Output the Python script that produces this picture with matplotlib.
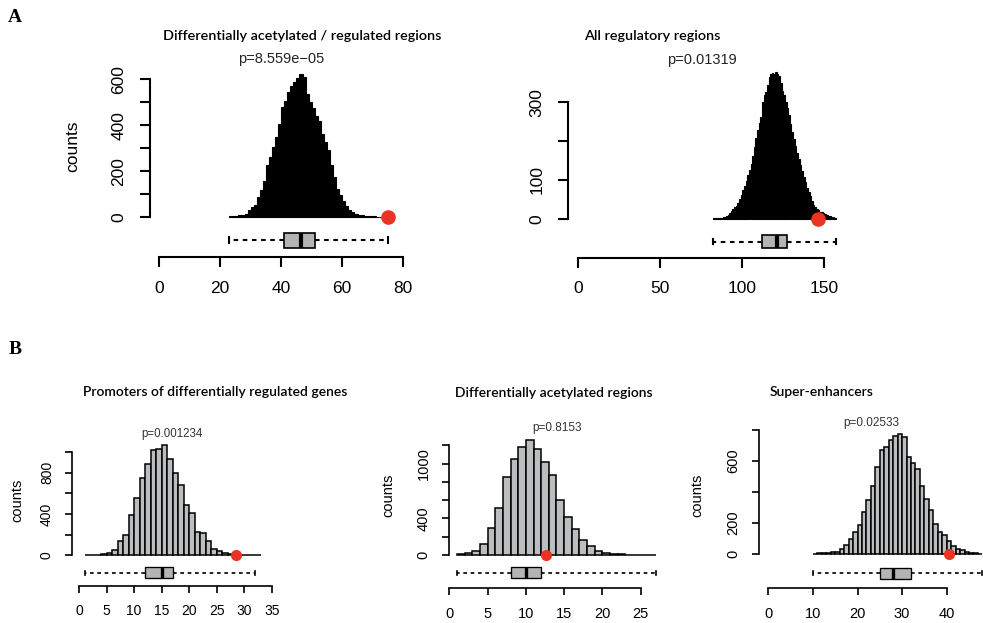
import matplotlib
matplotlib.use('Agg')
from matplotlib import pyplot as plt

plt.rcParams['font.family'] = ['Liberation Sans', 'DejaVu Sans']

W, H = 983, 623

# ---- values ----
# A: Differentially acetylated / regulated regions
a1_start = 23
a1_counts = [3, 4, 5, 7, 10, 14, 29, 43, 51, 87, 119, 159, 225, 261, 304, 348, 406, 478,
             507, 543, 570, 587, 606, 625, 610, 536, 500, 475, 442, 420, 362, 326, 293,
             225, 174, 123, 94, 70, 46, 32, 22, 14, 10, 7, 6, 5, 4, 3, 2, 2, 1, 1]
a1_box = dict(whislo=23, q1=41, med=46.5, q3=51, whishi=75)
a1_obs = 75
a1_xticks = [0, 20, 40, 60, 80]
a1_yticks = [0, 100, 200, 300, 400, 500, 600]
a1_ylabels = ['0', '', '200', '', '400', '', '600']

# A: All regulatory regions
a2_start = 82
a2_counts = [1, 2, 2, 3, 3, 3, 4, 5, 6, 9, 14, 20, 26, 30, 34, 40, 50, 60, 74, 85,
             97, 112, 126, 142, 162, 185, 208, 228, 246, 262, 300, 318, 326, 345, 366,
             372, 376, 374, 378, 372, 368, 350, 330, 318, 300, 286, 266, 245, 224, 206,
             188, 170, 154, 138, 122, 108, 94, 80, 70, 58, 46, 36, 30, 25, 22, 18, 16,
             14, 11, 9, 8, 7, 5, 4, 3]
a2_box = dict(whislo=82, q1=112, med=121, q3=127, whishi=157)
a2_obs = 146
a2_xticks = [0, 50, 100, 150]
a2_yticks = [0, 100, 200, 300]
a2_ylabels = ['0', '100', '', '300']

# B: Promoters of differentially regulated genes
b1_start = 1
b1_counts = [1, 3, 5, 10, 22, 51, 138, 197, 392, 553, 745, 880, 1015, 1027, 1065, 935,
             795, 683, 490, 405, 230, 215, 138, 62, 46, 25, 13, 6, 3, 2, 1, 1]
b1_box = dict(whislo=1, q1=12, med=15, q3=17, whishi=32)
b1_obs = 28.5
b1_xticks = [0, 5, 10, 15, 20, 25, 30, 35]
b1_yticks = [0, 200, 400, 600, 800, 1000]
b1_ylabels = ['0', '', '400', '', '800', '']

# B: Differentially acetylated regions
b2_start = 1
b2_counts = [7, 25, 47, 120, 292, 518, 850, 1050, 1180, 1265, 1160, 1018, 878, 602,
             415, 280, 165, 95, 44, 25, 15, 7, 3, 2, 1, 1]
b2_box = dict(whislo=1, q1=8, med=10, q3=12, whishi=27)
b2_obs = 12.6
b2_xticks = [0, 5, 10, 15, 20, 25]
b2_yticks = [0, 200, 400, 600, 800, 1000, 1200]
b2_ylabels = ['0', '', '400', '', '', '1000', '']

# B: Super-enhancers
b3_start = 10
b3_counts = [2, 4, 6, 9, 11, 15, 34, 60, 97, 142, 189, 271, 348, 441, 559, 673, 688,
             733, 759, 774, 753, 624, 587, 550, 440, 357, 286, 194, 142, 122, 82, 49,
             34, 26, 13, 9, 4, 2]
b3_box = dict(whislo=10, q1=25, med=28, q3=32, whishi=48)
b3_obs = 40.5
b3_xticks = [0, 10, 20, 30, 40]
b3_yticks = [0, 200, 400, 600, 800]
b3_ylabels = ['0', '200', '', '600', '']

fig = plt.figure(figsize=(W / 100, H / 100), dpi=100)


def ftext(x, y, s, **kw):
    fig.text(x / W, 1 - y / H, s, ha='center', va='center', **kw)


def panel(rect, ox, sx, oy, sy, start, counts, box, obs, xticks, yticks, ylabels,
          box_y, box_h, axis_y, fill, fs, lw, dot, tlen, med_lw, bar_lw):
    L, R, T, B = rect
    ax = fig.add_axes([L / W, 1 - B / H, (R - L) / W, (B - T) / H])
    ax.set_xlim((L - ox) / sx, (R - ox) / sx)
    ax.set_ylim((oy - B) / sy, (oy - T) / sy)
    ax.patch.set_visible(False)

    edges = [start + i for i in range(len(counts))]
    ax.bar(edges, counts, width=1, align='edge', color=fill, edgecolor='black',
           linewidth=bar_lw, zorder=2)

    yb = (oy - box_y) / sy
    stats = dict(box, fliers=[])
    ax.bxp([stats], positions=[yb], widths=[box_h / sy], orientation='horizontal',
           patch_artist=True, showfliers=False, manage_ticks=False,
           capwidths=[box_h * 0.35 / sy],
           boxprops=dict(facecolor='#b4b4b4', edgecolor='black', linewidth=lw * 0.8),
           whiskerprops=dict(linestyle=(0, (2.2, 2.2)), color='black', linewidth=lw),
           capprops=dict(color='black', linewidth=lw),
           medianprops=dict(color='black', linewidth=med_lw, solid_capstyle='butt'))

    ax.plot([obs], [0], 'o', color='#ea3323', markersize=dot, clip_on=False, zorder=5)

    for s in ('top', 'right'):
        ax.spines[s].set_visible(False)
    ax.spines['bottom'].set_position(('data', (oy - axis_y) / sy))
    ax.spines['bottom'].set_bounds(xticks[0], xticks[-1])
    ax.spines['left'].set_bounds(yticks[0], yticks[-1])
    for s in ('left', 'bottom'):
        ax.spines[s].set_linewidth(lw)
    ax.set_xticks(xticks)
    ax.set_yticks(yticks, ylabels)
    ax.tick_params(direction='out', length=tlen, width=lw, labelsize=fs, pad=fs * 0.8)
    ax.tick_params(axis='y', labelrotation=90)
    for lab in ax.get_yticklabels():
        lab.set_va('center')
    return ax


title_font = dict(family=['Lato', 'DejaVu Sans'], weight='semibold')

# ---------------- A ----------------
panel((150, 420, 60, 262), 159, 3.054, 217, 0.2295, a1_start, a1_counts, a1_box, a1_obs,
      a1_xticks, a1_yticks, a1_ylabels, 240, 15, 257, 'black', 12.5, 1.5, 9.5, 7, 3, 0.8)
ftext(302, 36, 'Differentially acetylated / regulated regions', fontsize=10.4, **title_font)
ftext(281, 59, 'p=8.559e\u221205', fontsize=10.5, color='#222222')
ftext(73, 146, 'counts', fontsize=12.5, rotation=90)

panel((568, 850, 60, 262), 578.3, 1.64, 218.7, 0.388, a2_start, a2_counts, a2_box, a2_obs,
      a2_xticks, a2_yticks, a2_ylabels, 241.5, 13, 257.7, 'black', 12.5, 1.5, 9.5, 7, 3, 0.8)
ftext(652, 36, 'All regulatory regions', fontsize=10.4, **title_font)
ftext(702, 60, 'p=0.01319', fontsize=10.5, color='#222222')

# ---------------- B ----------------
panel((72, 290, 440, 596), 79, 5.514, 555.3, 0.1033, b1_start, b1_counts, b1_box, b1_obs,
      b1_xticks, b1_yticks, b1_ylabels, 572.7, 11, 586, '#bcbdbe', 10, 1.2, 7, 5, 2.4, 1.1)
ftext(215, 392, 'Promoters of differentially regulated genes', fontsize=10, **title_font)
ftext(172, 434, 'p=0.001234', fontsize=8.3, color='#333333')
ftext(17, 500, 'counts', fontsize=10.5, rotation=90)

panel((449, 670, 430, 598), 449.3, 7.656, 555, 0.0913, b2_start, b2_counts, b2_box, b2_obs,
      b2_xticks, b2_yticks, b2_ylabels, 572.7, 11, 588.3, '#bcbdbe', 10.5, 1.2, 7, 5, 2.4, 1.1)
ftext(554, 393, 'Differentially acetylated regions', fontsize=10, **title_font)
ftext(557, 428, 'p=0.8153', fontsize=8.5, color='#333333')
ftext(388, 495, 'counts', fontsize=10.5, rotation=90)

panel((759, 983, 420, 598), 768.3, 4.46, 554, 0.155, b3_start, b3_counts, b3_box, b3_obs,
      b3_xticks, b3_yticks, b3_ylabels, 573.3, 11, 588.3, '#bcbdbe', 10.5, 1.2, 7, 5, 2.4, 1.1)
ftext(822, 392, 'Super-enhancers', fontsize=10, **title_font)
ftext(871, 423, 'p=0.02533', fontsize=8.5, color='#333333')
ftext(697, 495, 'counts', fontsize=10.5, rotation=90)

# panel letters
ftext(15, 17, 'A', fontsize=14, weight='bold', family=['Liberation Serif', 'DejaVu Serif'])
ftext(15, 349, 'B', fontsize=14, weight='bold', family=['Liberation Serif', 'DejaVu Serif'])

fig.savefig('out.png', dpi=100)
